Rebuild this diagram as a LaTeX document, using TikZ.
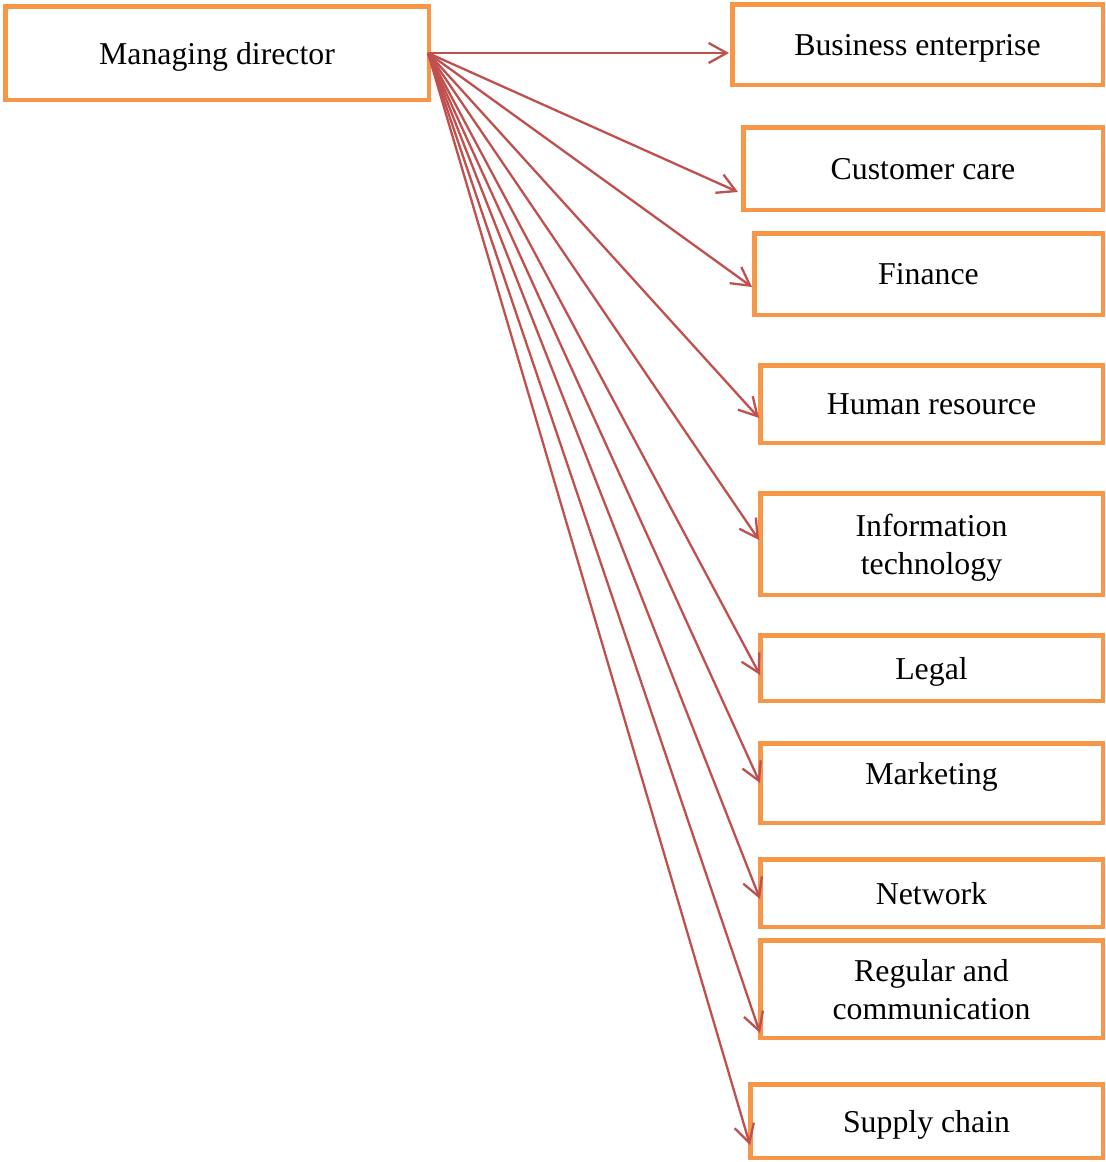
\documentclass[tikz,border=0pt]{standalone}
\usepackage{fontspec}
\setmainfont{Liberation Serif}
\usetikzlibrary{arrows.meta,calc}
\definecolor{boxorange}{HTML}{F79646}
\definecolor{arrred}{HTML}{C0504D}
\begin{document}
\begin{tikzpicture}[x=0.5pt,y=-0.5pt,
  bx/.style 2 args={draw=boxorange, line width=2.25pt, rectangle, inner sep=0pt,
    minimum width=0.5pt*#1, minimum height=0.5pt*#2, align=center, text depth=0pt,
    font=\fontsize{15.9}{19}\selectfont},
  conn/.style={draw=arrred, line width=1.15pt, -{Straight Barb[length=9pt,width=10pt,line width=1.15pt]}}]
\useasboundingbox (0,0) rectangle (1105,1162);
\node[bx={423.5}{93.5}] (md) at (217,53) {Managing director};
\node[bx={370.5}{80.5}] (biz) at (917.5,44.5) {Business enterprise};
\node[bx={359.5}{82.5}] (cc) at (923,168.5) {Customer care};
\node[bx={348.5}{81.5}] (fin) at (928.5,274) {Finance};
\node[bx={342.5}{77.5}] (hr) at (931.5,404) {Human resource};
\node[bx={342.5}{101.5}] (it) at (931.5,544) {Information\\technology};
\node[bx={342.5}{65.5}] (leg) at (931.5,668) {Legal};
\node[bx={342.5}{79.5}, label={[font=\fontsize{15.9}{19}\selectfont, text depth=0pt, yshift=5pt]center:Marketing}] (mkt) at (931.5,783) {};
\node[bx={342.5}{67.5}] (net) at (931.5,893) {Network};
\node[bx={342.5}{97.5}] (reg) at (931.5,989) {Regular and\\communication};
\node[bx={352.5}{73.5}] (sup) at (926.5,1121) {Supply chain};
\coordinate (src) at ($(md.east)+(-3,0)$);
\draw[conn] (src) -- ($(biz.west)+(-1,8.5)$);
\draw[conn] (src) -- ($(cc.west)+(-3,23.5)$);
\draw[conn] (src) -- ($(fin.west)+(0,13)$);
\draw[conn] (src) -- ($(hr.west)+(1,14)$);
\draw[conn] (src) -- ($(it.west)+(1,-4)$);
\draw[conn] (src) -- ($(leg.west)+(2,7)$);
\draw[conn] (src) -- ($(mkt.west)+(2,0)$);
\draw[conn] (src) -- ($(net.west)+(2,6)$);
\draw[conn] (src) -- ($(reg.west)+(2,44)$);
\draw[conn] (src) -- ($(sup.west)+(2,24)$);
\end{tikzpicture}
\end{document}
